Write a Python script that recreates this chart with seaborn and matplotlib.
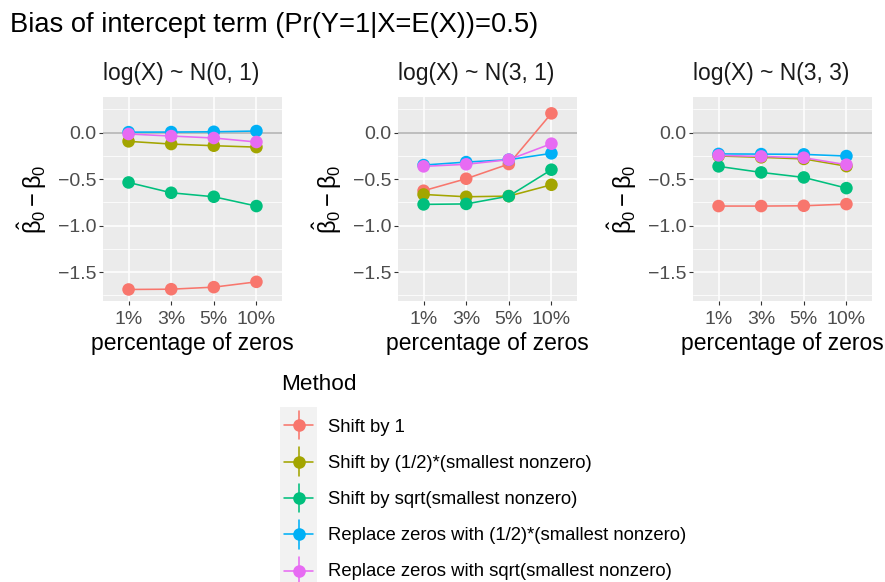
import numpy as np
import pandas as pd
import matplotlib
matplotlib.use("Agg")
import matplotlib.pyplot as plt
import seaborn as sns

# ---------------- data ----------------
pct_labels = ["1%", "3%", "5%", "10%"]
methods = [
    "Shift by 1",
    "Shift by (1/2)*(smallest nonzero)",
    "Shift by sqrt(smallest nonzero)",
    "Replace zeros with (1/2)*(smallest nonzero)",
    "Replace zeros with sqrt(smallest nonzero)",
]
colors = ["#F8766D", "#A3A500", "#00BF7D", "#00B0F6", "#E76BF3"]
panel_titles = ["log(X) ~ N(0, 1)", "log(X) ~ N(3, 1)", "log(X) ~ N(3, 3)"]

# panel 1: log(X) ~ N(0, 1)
n01_shift1 = [-1.686, -1.683, -1.661, -1.604]
n01_shift_half = [-0.093, -0.122, -0.140, -0.155]
n01_shift_sqrt = [-0.535, -0.646, -0.689, -0.789]
n01_repl_half = [0.006, 0.007, 0.010, 0.018]
n01_repl_sqrt = [-0.014, -0.036, -0.057, -0.100]

# panel 2: log(X) ~ N(3, 1)
n31_shift1 = [-0.624, -0.495, -0.337, 0.208]
n31_shift_half = [-0.664, -0.689, -0.682, -0.560]
n31_shift_sqrt = [-0.771, -0.766, -0.682, -0.398]
n31_repl_half = [-0.348, -0.316, -0.290, -0.222]
n31_repl_sqrt = [-0.362, -0.340, -0.290, -0.118]

# panel 3: log(X) ~ N(3, 3)
n33_shift1 = [-0.789, -0.789, -0.786, -0.768]
n33_shift_half = [-0.250, -0.265, -0.282, -0.360]
n33_shift_sqrt = [-0.362, -0.427, -0.481, -0.596]
n33_repl_half = [-0.228, -0.230, -0.233, -0.251]
n33_repl_sqrt = [-0.244, -0.255, -0.269, -0.344]

panels = [
    [n01_shift1, n01_shift_half, n01_shift_sqrt, n01_repl_half, n01_repl_sqrt],
    [n31_shift1, n31_shift_half, n31_shift_sqrt, n31_repl_half, n31_repl_sqrt],
    [n33_shift1, n33_shift_half, n33_shift_sqrt, n33_repl_half, n33_repl_sqrt],
]

rows = []
for p, series in enumerate(panels):
    for m, vals in zip(methods, series):
        for i, v in enumerate(vals):
            rows.append({"panel": p, "method": m, "pos": i, "bias": v})
df = pd.DataFrame(rows)

# ---------------- style ----------------
sns.set_style("white")
plt.rcParams["font.family"] = ["Liberation Sans", "DejaVu Sans"]
plt.rcParams["mathtext.fontset"] = "custom"
plt.rcParams["mathtext.rm"] = "Liberation Sans"
plt.rcParams["mathtext.it"] = "Liberation Sans"
plt.rcParams["mathtext.bf"] = "Liberation Sans:bold"
plt.rcParams["axes.unicode_minus"] = True
plt.rcParams["text.color"] = "black"
plt.rcParams["axes.labelcolor"] = "black"

W, H = 885, 582
fig = plt.figure(figsize=(W / 100, H / 100), dpi=100)
palette = dict(zip(methods, colors))

lefts = [103, 398, 693]
ax_w, top_px, bot_px = 179, 97, 301
for p in range(3):
    ax = fig.add_axes([lefts[p] / W, 1 - bot_px / H, ax_w / W, (bot_px - top_px) / H])
    ax.set_facecolor("#EBEBEB")
    for s in ax.spines.values():
        s.set_visible(False)
    ax.set_xlim(-0.6, 3.6)
    ax.set_ylim(-1.81, 0.384)
    ax.set_yticks([0.0, -0.5, -1.0, -1.5])
    ax.set_yticklabels(["0.0", "\u22120.5", "\u22121.0", "\u22121.5"])
    ax.set_yticks([-1.75, -1.25, -0.75, -0.25, 0.25], minor=True)
    ax.set_xticks(range(4))
    ax.set_xticklabels(pct_labels)
    ax.grid(which="major", color="white", lw=1.1, zorder=0)
    ax.grid(which="minor", axis="y", color="white", lw=0.55, zorder=0)
    ax.set_axisbelow(True)
    ax.tick_params(which="major", length=3, width=0.8, color="#333333",
                   labelsize=14, labelcolor="#4D4D4D", pad=2,
                   left=True, bottom=True)
    ax.tick_params(axis="x", pad=4)
    ax.tick_params(which="minor", length=0)
    ax.axhline(0, color="#B3B3B3", lw=1.2, zorder=1)

    d = df[df["panel"] == p]
    sns.lineplot(data=d, x="pos", y="bias", hue="method", hue_order=methods,
                 palette=palette, lw=1.15, legend=False, ax=ax, zorder=2,
                 sort=False, estimator=None)
    sns.scatterplot(data=d, x="pos", y="bias", hue="method", hue_order=methods,
                    palette=palette, s=82, linewidth=0, legend=False, ax=ax,
                    zorder=3)
    ax.set_xlabel("percentage of zeros", fontsize=16.5, labelpad=3, color="black")
    ax.set_ylabel(r"$\hat{\beta}_0 - \beta_0$", fontsize=17, labelpad=6, color="black")
    ax.set_title(panel_titles[p], fontsize=16.5, pad=12, loc="left", color="#1A1A1A")

fig.text(10 / W, 1 - 25 / H, "Bias of intercept term (Pr(Y=1|X=E(X))=0.5)",
         fontsize=19.6, va="center", ha="left", color="black")

# ---------------- legend ----------------
fig.text(281 / W, 1 - 385 / H, "Method", fontsize=16.2, va="center", ha="left",
         color="black")
lax = fig.add_axes([280 / W, 1 - 589 / H, 37 / W, 182 / H])
lax.set_facecolor("#F2F2F2")
for s in lax.spines.values():
    s.set_visible(False)
lax.set_xticks([])
lax.set_yticks([])
lax.set_xlim(0, 1)
lax.set_ylim(5, 0)
for i, (m, c) in enumerate(zip(methods, colors)):
    yc = i + 0.5
    lax.plot([0.12, 0.88], [yc, yc], color=c, lw=1.15)
    lax.plot([0.5, 0.5], [yc - 0.39, yc + 0.39], color=c, lw=1.15)
    lax.scatter([0.5], [yc], s=82, color=c, linewidth=0, zorder=3)
    fig.text(328 / W, 1 - (427 + 36 * i) / H, m, fontsize=13.3,
             va="center", ha="left", color="black")

fig.savefig("out.png", dpi=100)
